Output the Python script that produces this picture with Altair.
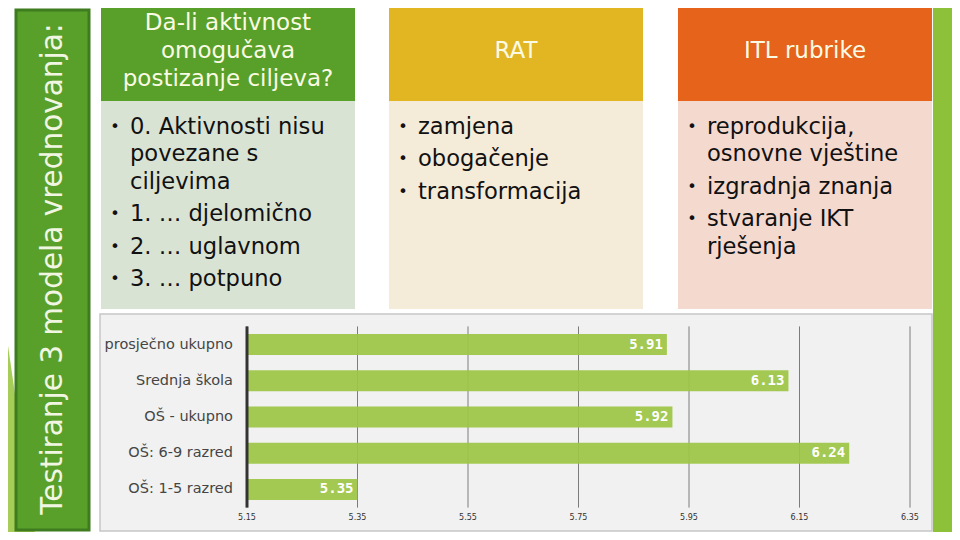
import altair as alt
import pandas as pd

# ---------------- data ----------------
categories = ["prosječno ukupno", "Srednja škola", "OŠ - ukupno", "OŠ: 6-9 razred", "OŠ:  1-5 razred"]
values = [5.91, 6.13, 5.92, 6.24, 5.35]
value_labels = ["5.91", "6.13", "5.92", "6.24", "5.35"]
tick_values = [5.15, 5.35, 5.55, 5.75, 5.95, 6.15, 6.35]
tick_labels = ["5.15", "5.35", "5.55", "5.75", "5.95", "6.15", "6.35"]

side_title = "Testiranje 3 modela vrednovanja:"
header_titles = [
    ["Da-li aktivnost", "omogučava", "postizanje ciljeva?"],
    ["RAT"],
    ["ITL rubrike"],
]
panel_bullets = [
    [["0. Aktivnosti nisu", "povezane s", "ciljevima"], ["1. … djelomično"], ["2. … uglavnom"], ["3. … potpuno"]],
    [["zamjena"], ["obogačenje"], ["transformacija"]],
    [["reprodukcija,", "osnovne vještine"], ["izgradnja znanja"], ["stvaranje IKT", "rješenja"]],
]

# ---------------- layout (page pixels) ----------------
OFF = 8
def V(p):
    return p - OFF

one = alt.Data(values=[{"k": 1}])

def box(x1, y1, x2, y2, **kw):
    return alt.Chart(one).mark_rect(**kw).encode(
        x=alt.value(V(x1)), x2=alt.value(V(x2)), y=alt.value(V(y1)), y2=alt.value(V(y2))
    )

def txt(s, x, y, **kw):
    return alt.Chart(one).mark_text(**kw).encode(
        x=alt.value(V(x)), y=alt.value(V(y)), text=alt.value(s)
    )

layers = []

# decorative greens
layers.append(alt.Chart(one).mark_point(
    shape="M-1,-1L-1,1L-0.712,1Z", filled=True, size=62500, color="#a6cd57", opacity=1, strokeWidth=0
).encode(x=alt.value(V(125)), y=alt.value(V(415))))
layers.append(box(933, 0, 960, 540, fill="#8dc13a"))

# side title box
layers.append(box(16, 10, 89, 530, fill="#59a02b", stroke="#3f7c1f", strokeWidth=3))
layers.append(txt(side_title, 53, 269, angle=270, align="center", baseline="middle",
                  font="DejaVu Sans", fontSize=29.5, color="#f1f6e2"))

# three panels
panel_x = [101, 389, 678]
panel_w = 254
head_fill = ["#58a02a", "#e2b623", "#e5631b"]
body_fill = ["#d9e3d4", "#f5ebd9", "#f4d9ce"]
for i in range(3):
    x0 = panel_x[i]
    layers.append(box(x0, 2, x0 + panel_w, 101, fill=head_fill[i]))
    layers.append(box(x0, 101, x0 + panel_w, 309, fill=body_fill[i]))
    lines = header_titles[i]
    n = len(lines)
    for j, s in enumerate(lines):
        yc = 51 + (j - (n - 1) / 2) * 28
        layers.append(txt(s, x0 + panel_w / 2, yc, align="center", baseline="middle",
                          font="DejaVu Sans", fontSize=23, color="#fbfbe4"))
    y = 126.5
    for b in panel_bullets[i]:
        layers.append(txt("•", x0 + 14, y, align="center", baseline="middle",
                          font="DejaVu Sans", fontSize=16, color="#111111"))
        for k, s in enumerate(b):
            layers.append(txt(s, x0 + 29, y, align="left", baseline="middle",
                              font="DejaVu Sans", fontSize=22.6, color="#111111"))
            if k < len(b) - 1:
                y += 27.5
        y += 32.5

# chart panel background
layers.append(box(100, 314, 932, 531, fill="#f1f1f1", stroke="#c6c6c6", strokeWidth=1.5))

# ---------------- bar chart ----------------
df = pd.DataFrame({"category": categories, "value": values, "label": value_labels})
df["base"] = tick_values[0]
ticks = pd.DataFrame({"t": tick_values, "lab": tick_labels})

xs = alt.Scale(domain=[tick_values[0], tick_values[-1]], range=[V(247), V(910)], zero=False, nice=False)
ys = alt.Scale(domain=categories, range=[V(326.4), V(507.6)], paddingInner=0.42, paddingOuter=0.21)

grid = alt.Chart(ticks).mark_rule(color="#7c7c7c", strokeWidth=1).encode(
    x=alt.X("t:Q", scale=xs, axis=None),
    y=alt.value(V(326.4)), y2=alt.value(V(507.6)),
)
tick_text = alt.Chart(ticks).mark_text(font="DejaVu Sans", fontSize=8, color="#333333",
                                       baseline="middle", align="center").encode(
    x=alt.X("t:Q", scale=xs, axis=None),
    y=alt.value(V(518)),
    text="lab:N",
)
bars = alt.Chart(df).mark_bar(color="#9dc646", opacity=0.93).encode(
    x=alt.X("value:Q", scale=xs, axis=None),
    x2="base:Q",
    y=alt.Y("category:N", scale=ys, axis=None, sort=categories),
)
axis_line = alt.Chart(ticks).transform_filter(
    alt.datum.t == tick_values[0]
).mark_rule(color="#333333", strokeWidth=3).encode(
    x=alt.X("t:Q", scale=xs, axis=None),
    y=alt.value(V(326.4)), y2=alt.value(V(507.6)),
)
cat_text = alt.Chart(df).mark_text(align="right", baseline="middle", font="DejaVu Sans",
                                   fontSize=14.5, color="#454545").encode(
    x=alt.value(V(233)),
    y=alt.Y("category:N", scale=ys, axis=None, sort=categories),
    text="category:N",
)
val_text = alt.Chart(df).mark_text(align="right", baseline="middle", dx=-4, font="DejaVu Sans Mono",
                                   fontWeight="bold", fontSize=14, color="white").encode(
    x=alt.X("value:Q", scale=xs, axis=None),
    y=alt.Y("category:N", scale=ys, axis=None, sort=categories),
    text="label:N",
)

layers += [grid, bars, axis_line, tick_text, cat_text, val_text]

chart = alt.layer(*layers).properties(
    width=944, height=524, padding=0,
    autosize=alt.AutoSizeParams(type="none"),
    background="white",
).configure_view(stroke=None)

chart.save("out.html", embed_options={"renderer": "svg", "actions": False})
